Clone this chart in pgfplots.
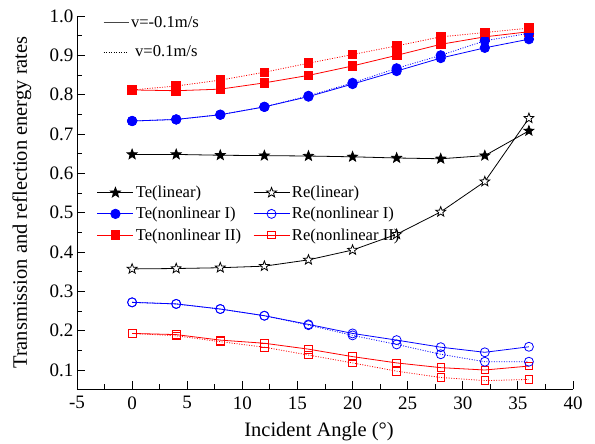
\documentclass[border=0pt]{standalone}
\usepackage{pgfplots}
\pgfplotsset{compat=1.18}
\usepackage{fontspec}
\setmainfont{Liberation Serif}
\newfontfamily\arialfont{Liberation Sans}
\usetikzlibrary{plotmarks}
\definecolor{dgrey}{RGB}{70,70,70}
\pgfdeclareplotmark{fivestar}{%
  \pgfpathmoveto{\pgfqpointpolar{90}{\pgfplotmarksize}}%
  \pgfpathlineto{\pgfqpointpolar{126}{0.42\pgfplotmarksize}}%
  \pgfpathlineto{\pgfqpointpolar{162}{\pgfplotmarksize}}%
  \pgfpathlineto{\pgfqpointpolar{198}{0.42\pgfplotmarksize}}%
  \pgfpathlineto{\pgfqpointpolar{234}{\pgfplotmarksize}}%
  \pgfpathlineto{\pgfqpointpolar{270}{0.42\pgfplotmarksize}}%
  \pgfpathlineto{\pgfqpointpolar{306}{\pgfplotmarksize}}%
  \pgfpathlineto{\pgfqpointpolar{342}{0.42\pgfplotmarksize}}%
  \pgfpathlineto{\pgfqpointpolar{18}{\pgfplotmarksize}}%
  \pgfpathlineto{\pgfqpointpolar{54}{0.42\pgfplotmarksize}}%
  \pgfpathclose
  \pgfusepathqfillstroke}
\begin{document}
\begin{tikzpicture}
\path[use as bounding box] (-77pt,-55pt) rectangle (518pt,389pt);
\begin{axis}[
  scale only axis, width=496pt, height=373pt,
  xmin=-5, xmax=40, ymin=0.0517, ymax=1.0,
  axis x line=bottom, axis y line=left,
  axis line style={-, line width=0.8pt},
  tick align=inside,
  major tick length=8pt, minor tick length=5pt,
  every tick/.style={black, line width=0.8pt},
  xtick={-5,0,...,40}, ytick={0.1,0.2,...,1.0},
  minor x tick num=1, minor y tick num=1,
  /pgf/number format/assume math mode=true,
  yticklabel style={/pgf/number format/.cd, fixed, fixed zerofill, precision=1},
  xticklabel style={yshift=-4pt},
  tick label style={font=\fontsize{19}{21}\selectfont},
  xlabel={Incident Angle (°)},
  ylabel={Transmission and reflection energy rates},
  label style={font=\fontsize{20.5}{23}\selectfont},
  xlabel style={at={(axis description cs:0.488,-0.115)}, anchor=center},
  ylabel style={at={(axis description cs:-0.111,0.5)}, anchor=center},
  legend columns=2,
  legend cell align=left,
  legend style={draw=none, fill=none, inner sep=0pt,
    at={(axis cs:-3.2,0.573)}, anchor=north west,
    font=\fontsize{16.6}{18}\selectfont, row sep=4.2pt,
    /tikz/every even column/.append style={column sep=10pt}},
  legend image code/.code={\draw[mark repeat=2,mark phase=2,#1] plot coordinates {(0pt,0pt) (18pt,0pt) (36pt,0pt)};},
  every axis plot/.append style={line width=0.8pt},
  dot/.style={dash pattern=on 1pt off 1.5pt},
]
% legend order
\addplot[black, mark=fivestar, mark size=5.2pt, mark options={solid, fill=black}] coordinates {
(0,0.648) (4,0.648) (8,0.646) (12,0.645) (16,0.644) (20,0.642) (24,0.639) (28,0.637) (32,0.645) (36,0.708)};
\addlegendentry{Te(linear)}
\addplot[black, mark=fivestar, mark size=5.2pt, mark options={solid, fill=white}] coordinates {
(0,0.357) (4,0.358) (8,0.360) (12,0.364) (16,0.380) (20,0.405) (24,0.445) (28,0.502) (32,0.579) (36,0.740)};
\addlegendentry{Re(linear)}
\addplot[blue, mark=*, mark size=4.7pt, mark options={solid, fill=blue}] coordinates {
(0,0.733) (4,0.737) (8,0.749) (12,0.769) (16,0.795) (20,0.827) (24,0.860) (28,0.893) (32,0.919) (36,0.941)};
\addlegendentry{Te(nonlinear I)}
\addplot[blue, mark=o, mark size=4.5pt, mark options={solid, fill=white}] coordinates {
(0,0.272) (4,0.268) (8,0.255) (12,0.238) (16,0.216) (20,0.193) (24,0.176) (28,0.158) (32,0.145) (36,0.159)};
\addlegendentry{Re(nonlinear I)}
\addplot[red, mark=square*, mark size=4.3pt, mark options={solid, fill=red}] coordinates {
(0,0.812) (4,0.810) (8,0.814) (12,0.830) (16,0.849) (20,0.873) (24,0.900) (28,0.928) (32,0.947) (36,0.960)};
\addlegendentry{Te(nonlinear II)}
\addplot[red, mark=square, mark size=3.8pt, mark options={solid, fill=white}] coordinates {
(0,0.193) (4,0.190) (8,0.176) (12,0.168) (16,0.153) (20,0.134) (24,0.118) (28,0.106) (32,0.100) (36,0.110)};
\addlegendentry{Re(nonlinear II)}
% dotted series (v=0.1 m/s)
\addplot[forget plot, blue, dot, mark=*, mark size=4.7pt, mark options={solid, fill=blue}] coordinates {
(0,0.733) (4,0.737) (8,0.749) (12,0.769) (16,0.797) (20,0.830) (24,0.867) (28,0.900) (32,0.937) (36,0.956)};
\addplot[forget plot, red, dot, mark=square*, mark size=4.3pt, mark options={solid, fill=red}] coordinates {
(0,0.812) (4,0.822) (8,0.837) (12,0.857) (16,0.880) (20,0.902) (24,0.924) (28,0.947) (32,0.958) (36,0.969)};
\addplot[forget plot, blue, dot, mark=o, mark size=4.5pt, mark options={solid, fill=white}] coordinates {
(0,0.272) (4,0.268) (8,0.255) (12,0.238) (16,0.214) (20,0.188) (24,0.165) (28,0.140) (32,0.121) (36,0.121)};
\addplot[forget plot, red, dot, mark=square, mark size=3.8pt, mark options={solid, fill=white}] coordinates {
(0,0.193) (4,0.187) (8,0.172) (12,0.158) (16,0.138) (20,0.118) (24,0.097) (28,0.081) (32,0.073) (36,0.076)};
\node[font=\arialfont\fontsize{20}{22}\selectfont, anchor=center] at (axis description cs:-0.12,-0.103) {(b)};
\end{axis}
\begin{axis}[
  scale only axis, width=496pt, height=373pt,
  xmin=-5, xmax=40, ymin=0.0517, ymax=1.0,
  hide axis,
  legend cell align=left,
  legend style={draw=none, fill=none, inner sep=0pt,
    at={(axis cs:-2.64,1.004)}, anchor=north west,
    font=\fontsize{16.6}{18}\selectfont, row sep=12.5pt},
  legend image code/.code={\draw[#1] (0pt,0pt) -- (25pt,0pt);},
]
\addlegendimage{dgrey, line width=0.8pt}
\addlegendentry{v=-0.1m/s}
\addlegendimage{black, line width=0.8pt, dash pattern=on 1pt off 1.5pt}
\addlegendentry{\ v=0.1m/s}
\end{axis}
\end{tikzpicture}
\end{document}
